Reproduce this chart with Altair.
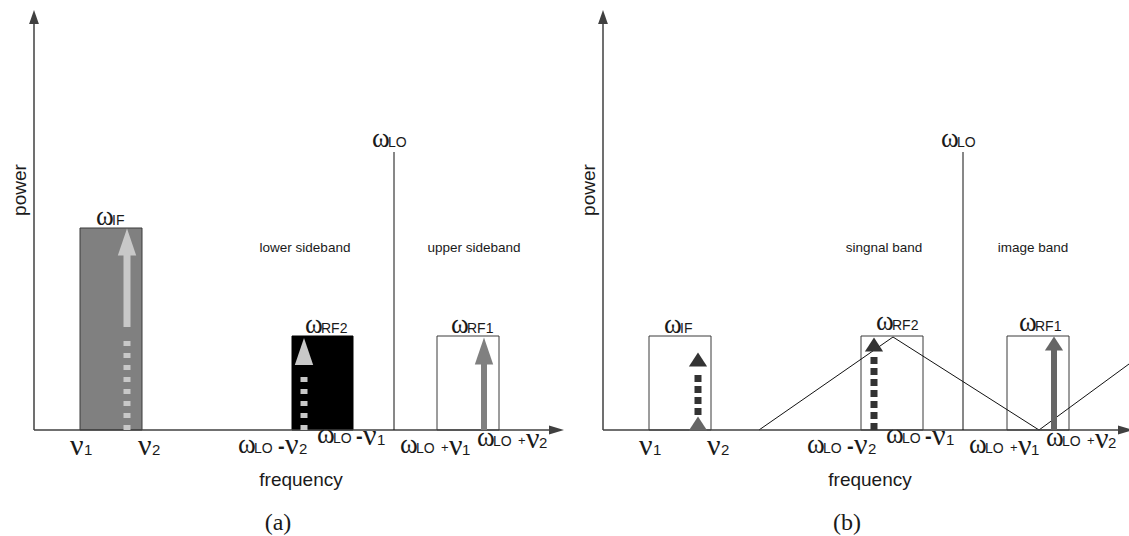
import altair as alt
import pandas as pd

# ---------------- page geometry (pixels) ----------------
W, H = 1129, 536
ORIGIN = {"a": 34, "b": 603}      # x pixel of each panel's power axis
BASELINE = 430                     # y pixel of the frequency axis

# ---------------- diagram values ----------------
# frequency = px to the right of the power axis, power = px above the baseline
AXIS_FREQ_END = 530
AXIS_POWER_END = 420
LO_FREQ = 360
LO_POWER = 278

band_names = ["IF", "RF2", "RF1"]
a_band_lo = [46, 258, 403]
a_band_hi = [108, 319, 465]
a_band_power = [202, 94, 94]
a_band_fill = ["#808080", "#000000", "#ffffff"]
a_band_stroke = ["#3a3a3a", "#000000", "#3a3a3a"]
b_band_lo = [46, 258, 404]
b_band_hi = [108, 320, 466]
b_band_power = [94, 94, 94]

# panel (a) arrows: frequency, head tip, head base, dotted top, solid start
a_arrow_freq = [93, 270, 450]
a_arrow_tip = [201, 92, 92]
a_arrow_base = [175, 65, 66]
a_arrow_dot_top = [95, 57, 0]
a_arrow_solid_from = [103, None, 0]
a_arrow_color = ["#c8c8c8", "#c8c8c8", "#808080"]

# panel (b) arrows
b_arrow_freq = [95, 271, 451]
b_arrow_tip = [77, 93, 93]
b_arrow_base = [64, 78, 80]
b_arrow_color = ["#333333", "#333333", "#666666"]
b_dot_from = [15, 0]
b_dot_to = [57, 76]
b_image_head_tip = 13    # small grey head at the bottom of the IF arrow

# mixer passband (panel b)
pass_freq = [156, 290, 436, 526]
pass_power = [0, 93, 0, 66]

band_text_a = ["lower sideband", "upper sideband"]
band_text_b = ["singnal band", "image band"]
band_text_freq_a = [271, 440]
band_text_freq_b = [281, 430]
panel_names = ["(a)", "(b)"]
axis_titles = ["frequency", "power"]

# symbol labels: subscript, x, baseline
sym_a = [("IF", 62, 225), ("RF2", 271, 333), ("RF1", 417, 333), ("LO", 338, 147)]
sym_b = [("IF", 61, 333), ("RF2", 273, 330), ("RF1", 416, 331), ("LO", 338, 147)]

# tick labels below the frequency axis (typeset pieces: text, style, dx, dy)
tick_labels = [
    (36, 455, [("ν", "nu", 0, 0), ("1", "digit", 14, 0)]),
    (104, 455, [("ν", "nu", 0, 0), ("2", "digit", 14, 0)]),
    (204, 453, [("ω", "omega", 0, 0), ("LO", "sub", 16, 0), ("-", "minus", 40, 0),
                ("ν", "nu", 47, 1), ("2", "digit", 61, 1)]),
    (283, 443, [("ω", "omega", 0, 0), ("LO", "sub", 16, 0), ("-", "minus", 39, 0),
                ("ν", "nu", 46, 2), ("1", "digit", 60, 2)]),
    (366, 453, [("ω", "omega", 0, 0), ("LO", "sub", 16, 0), ("+", "plus", 41, -1),
                ("ν", "nu", 49, 2), ("1", "digit", 62, 2)]),
    (443, 446, [("ω", "omega", 0, 0), ("LO", "sub", 16, 0), ("+", "plus", 41, -1),
                ("ν", "nu", 49, 2), ("2", "digit", 62, 2)]),
]

STYLES = {
    "omega": dict(font="Liberation Serif", fontSize=27),
    "sub": dict(font="Liberation Sans", fontSize=14),
    "nu": dict(font="Liberation Serif", fontSize=30),
    "digit": dict(font="Liberation Sans", fontSize=15),
    "minus": dict(font="Liberation Sans", fontSize=20, fontWeight="bold"),
    "plus": dict(font="Liberation Sans", fontSize=13),
}


def P(y_pix):
    return BASELINE - y_pix


# ---------------- build tables ----------------
rects, solid, dot_a, dot_b, heads_a, heads_b = [], [], [], [], [], []
axis_up, axis_right, texts, centered = [], [], [], []

for pn, o in ORIGIN.items():
    # axes
    solid.append(dict(x=o, x2=o, y=0, y2=AXIS_POWER_END - 14, color="#404040", w=1.5))
    solid.append(dict(x=o, x2=o + AXIS_FREQ_END - 15, y=0, y2=0, color="#404040", w=1.5))
    axis_up.append(dict(x=o, y=AXIS_POWER_END - 7, color="#404040"))
    axis_right.append(dict(x=o + AXIS_FREQ_END - 7.5, y=0, color="#404040"))
    # LO line
    solid.append(dict(x=o + LO_FREQ, x2=o + LO_FREQ, y=0, y2=LO_POWER, color="#111111", w=1))

    if pn == "a":
        for i in range(3):
            rects.append(dict(x=o + a_band_lo[i], x2=o + a_band_hi[i], y=0, y2=a_band_power[i],
                              fill=a_band_fill[i], stroke=a_band_stroke[i]))
            f = o + a_arrow_freq[i]
            c = a_arrow_color[i]
            if a_arrow_dot_top[i] > 0:
                dot_a.append(dict(x=f, x2=f, y=0, y2=a_arrow_dot_top[i], color=c, w=7))
            if a_arrow_solid_from[i] is not None:
                solid.append(dict(x=f, x2=f, y=a_arrow_solid_from[i], y2=a_arrow_base[i] + 1,
                                  color=c, w=7 if i == 0 else 6))
            heads_a.append(dict(x=f, y=(a_arrow_tip[i] + a_arrow_base[i]) / 2, color=c))
        sym = sym_a
        btxt, bfreq = band_text_a, band_text_freq_a
    else:
        for i in range(3):
            rects.append(dict(x=o + b_band_lo[i], x2=o + b_band_hi[i], y=0, y2=b_band_power[i],
                              fill="#ffffff", stroke="#3a3a3a"))
            f = o + b_arrow_freq[i]
            c = b_arrow_color[i]
            heads_b.append(dict(x=f, y=(b_arrow_tip[i] + b_arrow_base[i]) / 2, color=c))
            if i < 2:
                dot_b.append(dict(x=f, x2=f, y=b_dot_from[i], y2=b_dot_to[i], color=c, w=7))
            else:
                solid.append(dict(x=f, x2=f, y=0, y2=b_arrow_base[i] + 1, color=c, w=6))
        heads_b.append(dict(x=o + b_arrow_freq[0], y=b_image_head_tip / 2, color="#666666"))
        sym = sym_b
        btxt, bfreq = band_text_b, band_text_freq_b

    for sub, sx, sy in sym:
        texts.append(dict(x=o + sx, y=P(sy), text="ω", style="omega"))
        texts.append(dict(x=o + sx + 16, y=P(sy), text=sub, style="sub"))
    for lx, ly, pieces in tick_labels:
        for t, st, dx, dy in pieces:
            texts.append(dict(x=o + lx + dx, y=P(ly + dy), text=t, style=st))

    for t, f in zip(btxt, bfreq):
        centered.append(dict(x=o + f, y=P(252), text=t, kind="band"))
    centered.append(dict(x=o + 267, y=P(486), text=axis_titles[0], kind="axis"))
    centered.append(dict(x=o - 14, y=P(190), text=axis_titles[1], kind="power"))
    centered.append(dict(x=o + 244, y=P(530), text=panel_names[0 if pn == "a" else 1], kind="panel"))

pass_df = pd.DataFrame(dict(x=[ORIGIN["b"] + f for f in pass_freq], y=pass_power,
                            i=list(range(len(pass_freq)))))

xs = alt.Scale(domain=[0, W], nice=False, zero=False)
ys = alt.Scale(domain=[BASELINE - H, BASELINE], nice=False, zero=False)


def XE():
    return alt.X("x:Q", scale=xs, axis=None)


def YE():
    return alt.Y("y:Q", scale=ys, axis=None)


layers = []
layers.append(alt.Chart(pd.DataFrame(rects)).mark_rect(strokeWidth=1).encode(
    x=XE(), x2="x2:Q", y=YE(), y2="y2:Q",
    fill=alt.Fill("fill:N", scale=None), stroke=alt.Stroke("stroke:N", scale=None)))
layers.append(alt.Chart(pass_df).mark_line(color="#111111", strokeWidth=1).encode(
    x=XE(), y=YE(), order="i:Q"))


def rule_layer(rows, dash=None):
    kw = dict(strokeCap="butt")
    if dash:
        kw["strokeDash"] = dash
    return alt.Chart(pd.DataFrame(rows)).mark_rule(**kw).encode(
        x=XE(), x2="x2:Q", y=YE(), y2="y2:Q",
        color=alt.Color("color:N", scale=None), size=alt.Size("w:Q", scale=None))


layers.append(rule_layer(solid))
layers.append(rule_layer(dot_a, [5, 7]))
layers.append(rule_layer(dot_b, [7, 4]))


def head_layer(rows, path, size):
    return alt.Chart(pd.DataFrame(rows)).mark_point(
        shape=path, size=size, filled=True, opacity=1, strokeWidth=0).encode(
        x=XE(), y=YE(), color=alt.Color("color:N", scale=None))


layers.append(head_layer(heads_a, "M0,-1L0.68,1L-0.68,1Z", 729))
layers.append(head_layer(heads_b, "M0,-1L1.3,1L-1.3,1Z", 196))
layers.append(head_layer(axis_up, "M0,-1L0.7,1L-0.7,1Z", 196))
layers.append(head_layer(axis_right, "M1,0L-1,0.6L-1,-0.6Z", 225))

tdf = pd.DataFrame(texts)
for st, kw in STYLES.items():
    sub = tdf[tdf["style"] == st]
    layers.append(alt.Chart(sub).mark_text(align="left", baseline="alphabetic",
                                           color="#1a1a1a", **kw).encode(
        x=XE(), y=YE(), text="text:N"))

cdf = pd.DataFrame(centered)
CSTY = {
    "band": dict(font="Liberation Sans", fontSize=13.5, baseline="alphabetic"),
    "axis": dict(font="Liberation Sans", fontSize=19, baseline="alphabetic"),
    "power": dict(font="Liberation Sans", fontSize=19, baseline="middle", angle=270),
    "panel": dict(font="Liberation Serif", fontSize=24, baseline="alphabetic"),
}
for k, kw in CSTY.items():
    sub = cdf[cdf["kind"] == k]
    layers.append(alt.Chart(sub).mark_text(align="center", color="#1a1a1a", **kw).encode(
        x=XE(), y=YE(), text="text:N"))

chart = alt.layer(*layers).properties(
    width=W, height=H, padding=0, background="white",
    autosize=alt.AutoSizeParams(type="none"),
).configure_view(stroke=None)

chart.save("out.html", embed_options={"renderer": "svg", "actions": False})
